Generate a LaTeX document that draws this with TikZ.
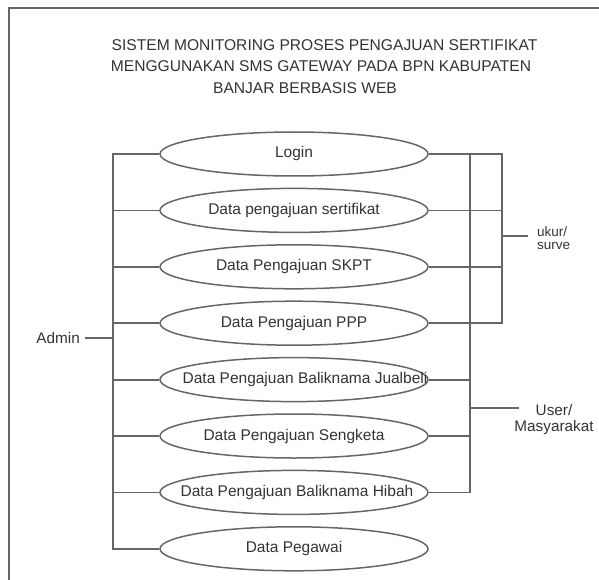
\documentclass[tikz,border=0pt]{standalone}
\usepackage{fontspec}
\setmainfont{Liberation Sans}
\usetikzlibrary{shapes.geometric}
\definecolor{garis}{HTML}{666666}
\definecolor{tulisan}{HTML}{333333}
\def\atas{154}
\def\jarak{56.4}

\begin{document}
\begin{tikzpicture}[x=1pt,y=-1pt,
    tulis/.style={inner sep=0pt,text=tulisan,font=\fontsize{15.3}{16}\selectfont},
    kasus/.style={ellipse,draw=garis,line width=1.5pt,minimum width=268pt,minimum height=44pt,
        inner sep=0pt,text height=11pt,text depth=3pt,text=tulisan,font=\fontsize{15.5}{16}\selectfont},
    hubung/.style={draw=garis,line width=1.8pt}]
    \useasboundingbox (0,0) rectangle (599,580);
    \draw[garis,line width=1.8pt] (599,8)--(9,8)--(9,580);
    \node[tulis,font=\fontsize{15.6}{16}\selectfont] (judul1) at (324.5,45) {SISTEM MONITORING PROSES PENGAJUAN SERTIFIKAT};
    \node[tulis,font=\fontsize{15.6}{16}\selectfont] (judul2) at (321,66) {MENGGUNAKAN SMS GATEWAY PADA BPN KABUPATEN};
    \node[tulis,font=\fontsize{15.6}{16}\selectfont] (judul3) at (305,88) {BANJAR BERBASIS WEB};
    \foreach \nama/\isi/\geser [count=\i from 0] in {login/Login/0,sertifikat/Data pengajuan sertifikat/0,
        skpt/Data Pengajuan SKPT/0,ppp/Data Pengajuan PPP/0,jualbeli/Data Pengajuan Baliknama Jualbeli/22,
        sengketa/Data Pengajuan Sengketa/0,hibah/Data Pengajuan Baliknama Hibah/6,pegawai/Data Pegawai/0} {
        \node[kasus] (\nama) at (294,\atas+\jarak*\i) {\makebox[0pt]{\hspace*{\geser pt}\isi}};
    }
    \node[tulis,anchor=east] (admin) at (80,338) {Admin};
    \coordinate (kiri) at (113,338);
    \draw[hubung,shorten <=5pt] (admin)--(kiri);
    \draw[hubung] (login.west)--(login.west -| kiri)--(pegawai.west -| kiri)--(pegawai.west);
    \foreach \nama in {sertifikat,skpt,ppp,jualbeli,sengketa,hibah}
        \draw[hubung] (\nama.west)--(\nama.west -| kiri);
    \coordinate (kanan) at (470,408);
    \coordinate (ukur) at (502,236);
    \draw[hubung] (login.east)--(login.east -| ukur)--(ppp.east -| ukur)--(ppp.east);
    \foreach \nama in {sertifikat,skpt}
        \draw[hubung] (\nama.east)--(\nama.east -| ukur);
    \draw[hubung] (login.east -| kanan)--(hibah.east -| kanan)--(hibah.east);
    \foreach \nama in {jualbeli,sengketa}
        \draw[hubung] (\nama.east)--(\nama.east -| kanan);
    \node[tulis,align=left,anchor=west,font=\fontsize{13.5}{12.5}\selectfont] (surveyor) at (537,238) {ukur/\\surve};
    \coordinate (ujungukur) at (528,236);
    \draw[hubung] (ukur)--(ujungukur);
    \node[tulis,align=center] (user) at (554,420) {User/\\Masyarakat};
    \coordinate (ujunguser) at (519,408);
    \draw[hubung] (kanan)--(ujunguser);
\end{tikzpicture}
\end{document}
